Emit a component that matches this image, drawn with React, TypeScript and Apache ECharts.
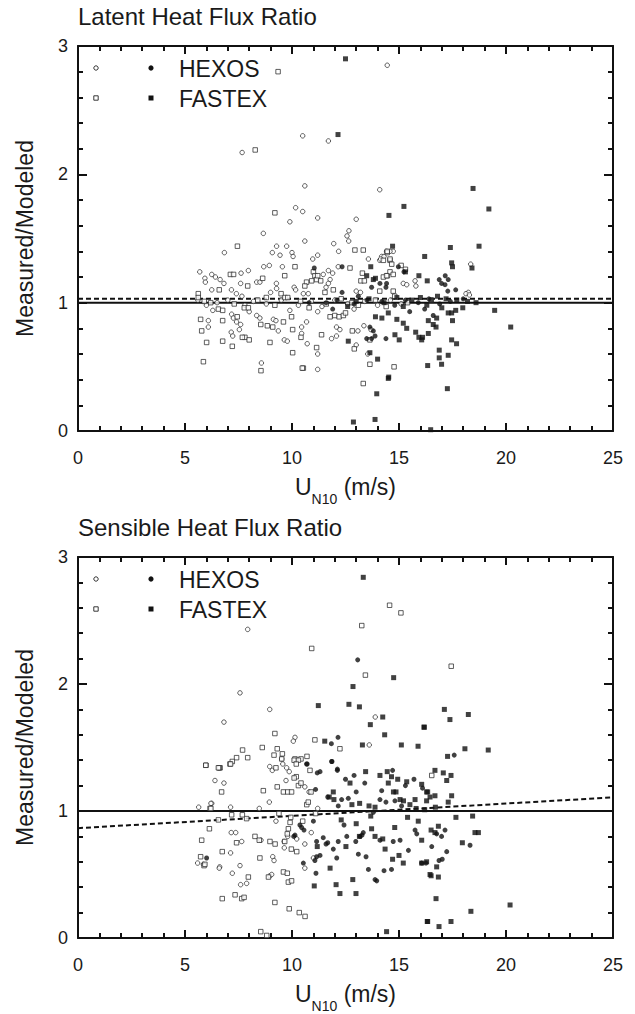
import React, { useEffect, useRef } from "react";
import * as echarts from "echarts";

const FONT = "'Liberation Sans', Arial, Helvetica, sans-serif";
const INK = "#1a1a1a";

const X_MIN = 0;
const X_MAX = 25;
const X_STEP = 5;
const Y_MIN = 0;
const Y_MAX = 3;
const Y_STEP = 1;

const TITLES = ["Latent Heat Flux Ratio", "Sensible Heat Flux Ratio"];
const LEGEND_NAMES = ["HEXOS", "FASTEX"];

const TOP_SOLID = [[0, 1.0], [25, 1.0]];
const TOP_DASHED = [[0, 1.03], [25, 1.03]];
const BOT_SOLID = [[0, 1.0], [25, 1.0]];
const BOT_DASHED = [[0, 0.865], [25, 1.107]];

const TOP_HEXOS_OPEN = [
  [10.5, 2.3], [7.67, 2.17], [10.6, 1.91], [10.17, 1.74], [10.5, 1.71], [11.2, 1.66], [9.9, 1.63], [8.66, 1.54],
  [14.45, 2.85], [11.7, 2.26], [14.1, 1.88], [13.0, 1.65], [12.66, 1.56], [12.57, 1.52], [12.65, 1.48],
  [6.84, 1.39], [9.28, 1.44], [9.75, 1.44], [9.44, 1.37], [9.08, 1.39], [10.0, 1.39], [10.05, 1.36], [10.6, 1.48],
  [11.95, 1.46], [12.18, 1.4], [10.97, 1.34], [11.2, 1.37], [13.57, 1.34], [14.19, 1.36], [14.1, 1.33],
  [5.69, 1.24], [5.93, 1.19], [5.95, 1.16], [6.25, 1.22], [6.42, 1.2], [6.64, 1.18], [6.82, 1.15], [7.62, 1.23],
  [7.96, 1.25], [7.6, 1.15], [7.17, 1.1], [6.25, 1.1], [7.4, 1.07], [7.66, 1.05], [8.68, 1.28], [8.94, 1.29],
  [9.55, 1.28], [9.0, 1.08], [9.27, 1.15], [9.28, 1.11], [8.35, 1.16], [8.5, 1.16], [10.1, 1.12], [10.17, 1.1],
  [10.53, 1.07], [10.76, 1.07], [11.46, 1.22], [11.7, 1.25], [11.9, 1.23], [11.78, 1.18], [11.7, 1.15],
  [11.59, 1.12], [12.16, 1.28], [13.0, 1.09], [13.2, 1.08],
  [6.09, 0.86], [6.09, 0.81], [7.16, 0.77], [7.23, 0.74], [7.18, 0.91], [7.26, 0.88], [7.41, 0.85], [7.6, 0.83],
  [7.54, 0.79], [8.57, 0.53], [8.35, 0.9], [8.5, 0.88], [9.13, 0.87], [9.25, 0.86], [9.36, 0.78], [9.64, 0.71],
  [9.78, 0.7], [10.45, 0.81], [10.45, 0.76], [10.68, 0.85], [10.71, 0.68], [11.2, 0.6], [11.2, 0.48],
  [11.85, 0.72], [12.08, 0.74], [12.08, 0.81], [12.24, 0.79], [13.08, 0.78], [13.54, 0.6], [13.69, 0.79],
  [13.36, 0.82], [13.0, 0.67],
  [14.73, 1.4], [14.58, 1.4], [14.42, 1.4], [14.3, 1.36], [14.14, 1.34], [18.35, 1.3], [15.75, 1.17],
  [15.79, 1.13], [15.2, 1.15], [15.36, 1.14], [18.24, 1.08], [18.13, 1.07], [18.29, 1.06],
  [5.6, 1.02], [6.0, 0.98], [6.5, 1.0], [7.0, 1.02], [7.8, 0.98], [8.2, 1.01], [8.8, 0.99], [9.5, 1.02],
  [10.3, 0.98], [10.9, 1.01], [11.4, 0.97], [12.0, 1.02], [12.6, 0.99], [13.4, 1.01], [14.0, 0.98],
  [14.6, 1.02], [15.1, 0.99], [6.3, 0.94], [8.0, 0.93], [9.9, 0.94], [11.2, 0.93], [12.9, 0.95],
];

const TOP_FASTEX_OPEN = [
  [9.35, 2.8], [8.28, 2.19], [9.2, 1.7], [7.45, 1.44], [12.94, 1.41], [13.33, 1.41], [14.45, 1.39], [14.58, 1.33],
  [14.27, 1.33], [7.12, 1.22], [7.27, 1.22], [7.93, 1.13], [6.6, 1.1], [8.63, 1.19], [10.14, 1.28], [9.66, 1.21],
  [9.49, 1.07], [9.67, 1.04], [9.8, 1.04], [11.0, 1.24], [11.07, 1.21], [10.68, 1.16], [10.6, 1.13],
  [10.92, 1.17], [11.15, 1.18], [11.34, 1.17], [11.2, 1.21], [12.71, 1.27], [11.54, 1.08], [11.93, 1.1],
  [13.29, 1.23], [13.22, 1.17], [13.38, 1.17], [14.1, 1.09], [14.46, 1.21], [14.58, 1.24], [14.73, 1.09],
  [14.8, 1.05], [5.62, 1.07], [5.62, 1.04],
  [5.73, 0.87], [5.78, 0.78], [6.01, 0.69], [5.86, 0.54], [6.56, 0.95], [6.76, 0.94], [6.76, 0.86], [6.76, 0.7],
  [7.21, 0.66], [7.44, 0.89], [7.77, 0.96], [7.96, 0.96], [7.8, 0.73], [8.0, 0.71], [7.68, 0.73], [8.54, 0.83],
  [8.55, 0.47], [8.97, 0.69], [8.85, 0.82], [9.1, 0.81], [9.6, 0.85], [9.98, 0.89], [10.03, 0.79],
  [10.03, 0.61], [10.53, 0.49], [10.42, 0.73], [11.15, 0.65], [11.38, 0.75], [10.48, 0.49], [11.78, 0.89],
  [12.0, 0.9], [12.2, 0.89], [12.4, 0.9], [12.5, 0.92], [12.82, 0.78], [12.91, 0.64], [13.33, 0.37],
  [13.64, 0.52], [13.64, 0.71], [14.77, 0.5],
  [14.45, 1.4], [14.58, 1.34], [14.66, 1.3], [14.27, 1.2], [14.42, 1.21], [14.73, 1.22], [15.3, 1.26],
  [15.1, 1.29], [16.5, 1.02],
  [6.2, 1.0], [7.3, 0.99], [8.4, 1.02], [9.2, 0.98], [10.4, 1.01], [11.6, 0.99], [12.3, 1.03], [13.1, 0.98],
  [13.9, 1.02], [14.4, 0.97], [15.4, 1.0], [5.9, 1.01], [8.8, 1.04], [10.8, 0.96], [12.8, 1.0],
];

const TOP_HEXOS_FILLED = [
  [11.04, 1.27], [12.34, 1.28], [12.34, 1.08], [13.72, 1.12], [14.11, 1.15], [14.42, 1.15], [14.39, 1.12],
  [13.49, 0.72], [13.72, 0.72], [13.88, 0.74], [14.39, 0.72], [13.64, 0.81], [13.8, 0.78], [14.97, 1.28],
  [15.23, 1.24], [16.88, 1.18], [16.99, 1.15], [17.15, 1.14], [17.16, 1.21], [17.3, 1.18], [17.65, 1.1],
  [17.28, 1.09], [11.6, 1.0], [12.1, 1.02], [12.9, 0.99], [13.5, 1.02], [14.2, 1.01], [14.8, 0.98],
  [15.3, 1.02], [15.9, 1.0], [16.4, 1.03], [16.9, 0.99], [17.4, 1.01], [18.0, 1.03], [15.5, 0.93],
  [16.2, 0.95], [16.6, 0.9], [13.1, 1.05], [10.8, 1.0], [11.9, 0.95],
];

const TOP_FASTEX_FILLED = [
  [12.5, 2.9], [12.15, 2.31], [18.46, 1.89], [15.23, 1.75], [19.2, 1.73], [14.53, 1.68], [14.7, 1.44],
  [15.3, 1.24], [13.68, 1.28], [13.49, 1.21], [13.8, 1.18], [13.9, 1.19], [17.4, 1.43], [18.74, 1.44],
  [16.2, 1.36], [17.46, 1.31], [17.5, 1.28], [18.41, 1.27], [15.93, 1.21], [16.32, 1.17], [18.6, 1.0],
  [19.47, 0.94], [20.22, 0.81], [17.98, 0.96], [17.3, 0.92], [17.46, 0.92], [17.65, 0.94], [17.5, 0.86],
  [16.76, 0.88], [16.73, 0.81], [16.6, 0.83], [16.37, 0.86], [15.36, 0.8], [14.81, 0.75], [15.01, 0.71],
  [15.78, 0.77], [15.93, 0.73], [16.1, 0.73], [16.06, 0.71], [16.37, 0.76], [17.46, 0.71], [17.69, 0.68],
  [16.88, 0.63], [16.88, 0.57], [17.3, 0.59], [16.99, 0.52], [16.34, 0.51], [14.5, 0.41], [17.26, 0.33],
  [16.48, 0.01], [12.63, 0.7], [13.64, 0.61], [14.0, 0.56], [13.96, 0.29], [14.52, 0.42], [12.87, 0.07],
  [13.88, 0.09], [13.9, 0.89], [14.2, 0.88], [14.5, 0.92], [14.9, 0.87], [15.2, 0.84],
  [13.0, 1.01], [13.6, 1.03], [14.3, 1.0], [14.9, 1.04], [15.6, 1.02], [16.0, 1.04], [16.5, 1.02],
  [16.8, 1.05], [17.2, 1.03], [17.7, 1.02], [18.2, 1.01], [15.2, 0.97], [16.3, 0.98], [17.0, 0.96],
  [12.6, 0.97],
];

const BOT_HEXOS_OPEN = [
  [7.93, 2.43], [7.57, 1.93], [8.96, 1.8], [6.82, 1.7], [13.89, 1.74], [13.61, 1.52], [10.14, 1.58],
  [10.06, 1.55], [8.96, 1.35], [9.08, 1.32], [9.57, 1.37], [6.4, 1.24], [6.82, 1.22], [6.25, 1.06],
  [7.13, 1.03], [8.47, 1.02], [8.94, 1.07], [9.52, 1.41], [9.75, 1.34], [9.87, 1.31], [9.72, 1.24],
  [9.25, 0.92], [7.16, 0.83], [7.37, 0.83], [7.65, 0.76], [7.13, 0.67], [7.57, 0.57], [7.21, 0.51],
  [6.62, 0.56], [7.6, 0.42], [7.88, 0.43], [10.6, 0.55], [5.64, 1.03], [6.21, 1.06], [5.59, 0.59],
  [5.86, 0.58], [6.6, 0.55], [8.55, 0.77], [9.1, 0.64], [9.16, 0.61], [9.63, 0.76], [9.8, 0.8], [9.64, 0.71],
  [10.6, 0.74], [10.22, 0.78], [8.97, 0.49], [9.05, 0.5], [10.6, 1.19], [10.8, 1.15], [11.2, 1.02],
  [10.9, 0.83], [11.0, 0.63],
];

const BOT_FASTEX_OPEN = [
  [14.56, 2.62], [15.09, 2.56], [13.26, 2.46], [10.92, 2.28], [13.43, 2.07], [9.2, 1.61], [11.07, 1.56],
  [12.24, 1.49], [7.69, 1.48], [7.41, 1.42], [7.21, 1.39], [7.1, 1.37], [7.93, 1.42], [6.64, 1.34],
  [5.98, 1.36], [8.61, 1.5], [17.44, 2.14], [16.53, 1.28], [9.16, 1.44], [9.31, 1.49], [9.55, 1.45],
  [9.52, 1.41], [10.14, 1.41], [10.42, 1.41], [10.7, 1.43], [9.25, 1.34], [10.2, 1.27],
  [6.6, 1.34], [7.13, 1.37], [6.71, 1.15], [6.17, 1.02], [7.18, 0.97], [7.68, 0.97], [7.88, 0.94],
  [6.56, 0.93], [8.66, 1.16], [9.31, 1.19], [9.6, 1.15], [9.8, 1.15], [9.98, 1.15], [10.1, 1.4], [10.3, 1.4],
  [10.2, 1.37], [10.1, 1.26], [10.3, 1.2], [10.42, 1.22], [10.89, 1.15], [10.84, 1.32], [10.69, 1.05],
  [10.76, 1.07], [9.39, 0.98], [9.83, 0.86], [9.91, 0.91], [9.94, 0.95], [9.78, 0.82], [7.41, 0.75],
  [6.74, 0.68], [7.96, 0.48], [6.74, 0.31], [7.34, 0.34], [7.65, 0.31], [7.76, 0.32], [8.27, 0.8],
  [8.47, 0.77], [8.5, 0.63], [8.97, 0.76], [9.21, 0.74], [9.66, 0.76], [9.97, 0.7], [10.22, 0.68],
  [9.6, 0.52], [9.78, 0.51], [9.83, 0.44], [9.98, 0.45], [8.9, 0.48], [9.2, 0.28], [9.87, 0.23],
  [10.34, 0.2], [10.61, 0.17], [8.54, 0.05], [8.82, 0.02], [5.97, 1.36], [6.56, 1.34], [6.21, 1.02],
  [6.14, 0.86], [5.78, 0.77], [5.73, 0.64], [5.89, 0.57], [5.93, 0.58], [10.5, 0.92], [11.1, 0.98],
];

const BOT_HEXOS_FILLED = [
  [13.07, 2.19], [11.84, 1.53], [12.15, 1.58], [10.68, 1.37], [11.87, 1.39], [12.12, 1.33], [10.71, 1.37],
  [11.18, 1.3], [11.31, 1.31], [11.1, 1.17], [11.85, 1.39], [12.12, 1.32], [12.32, 1.09], [12.63, 1.1],
  [12.16, 1.04], [11.67, 1.11], [13.8, 0.99], [10.37, 0.89], [10.56, 0.85], [10.45, 0.87], [10.14, 0.81],
  [10.08, 0.8], [11.0, 0.92], [10.53, 0.59], [11.12, 0.51], [11.15, 0.64], [11.15, 0.76], [11.07, 0.61],
  [11.31, 0.65], [11.46, 0.79], [11.59, 0.74], [12.09, 0.63], [13.88, 0.46], [13.96, 0.45], [14.3, 0.53],
  [14.65, 0.54], [17.58, 1.44], [16.76, 0.82], [16.99, 0.8], [17.15, 0.85], [16.53, 0.72], [17.23, 0.68],
  [18.32, 0.73], [16.06, 0.59], [16.26, 0.59], [16.87, 0.61], [17.02, 0.62], [6.01, 0.63],
  [11.67, 0.75], [11.93, 0.7], [12.16, 0.76], [12.43, 0.89], [12.56, 0.8], [12.98, 0.76], [13.1, 0.66],
  [13.18, 0.8], [13.27, 0.81], [13.33, 0.83], [13.46, 0.64], [13.57, 0.54], [14.7, 1.32], [14.19, 1.16],
  [14.11, 1.09], [14.39, 1.07], [14.81, 1.08], [15.12, 1.04], [14.11, 0.77], [14.73, 0.76], [15.05, 0.77],
  [15.44, 0.69], [15.75, 0.85], [15.83, 0.82], [12.9, 1.28], [13.4, 1.22], [13.0, 1.15], [12.5, 1.25],
  [15.7, 1.25], [15.3, 1.2], [16.1, 1.18],
];

const BOT_FASTEX_FILLED = [
  [13.33, 2.84], [14.75, 2.05], [12.85, 1.98], [11.23, 1.83], [12.66, 1.84], [13.15, 1.82], [14.24, 1.74],
  [13.66, 1.68], [14.33, 1.6], [16.17, 1.66], [15.11, 1.52], [15.89, 1.51], [13.29, 1.52], [11.53, 1.55],
  [13.44, 1.31], [12.71, 1.22], [11.93, 1.15], [11.74, 1.11], [11.96, 1.09], [12.8, 1.05], [13.16, 1.06],
  [13.6, 1.04], [14.11, 1.28], [14.45, 1.31], [14.65, 1.27], [14.94, 1.25], [15.36, 1.23], [14.5, 1.22],
  [14.74, 1.15], [14.86, 1.15], [15.05, 1.09], [15.21, 1.08], [15.51, 1.05], [15.75, 1.09], [16.06, 1.21],
  [16.34, 1.15], [13.88, 1.03], [13.68, 0.96], [11.04, 0.41], [11.18, 0.72], [11.78, 0.55], [12.06, 0.42],
  [12.24, 0.35], [12.84, 0.46], [12.99, 0.35], [15.2, 0.59], [16.06, 0.59], [16.29, 0.6], [16.45, 0.5],
  [16.34, 0.13], [14.42, 0.05], [17.12, 1.8], [17.38, 1.72], [18.24, 1.76], [16.18, 1.66], [18.08, 1.49],
  [19.17, 1.48], [17.27, 1.43], [16.68, 1.32], [17.07, 1.3], [17.43, 1.28], [17.23, 1.24], [16.29, 1.15],
  [16.45, 1.11], [16.68, 1.12], [17.46, 1.12], [17.3, 1.07], [16.29, 1.08], [17.66, 0.95], [18.44, 0.96],
  [16.5, 0.85], [16.68, 0.83], [16.84, 0.88], [18.55, 0.83], [18.71, 0.83], [17.96, 0.75], [16.06, 0.77],
  [16.5, 0.49], [16.84, 0.48], [16.76, 0.56], [16.73, 0.31], [20.19, 0.26], [18.36, 0.21], [16.32, 0.13],
  [16.87, 0.09], [17.43, 0.13], [12.52, 0.72], [13.15, 0.8], [13.72, 0.86], [13.88, 0.8], [14.24, 0.78],
  [14.35, 0.7], [12.3, 0.93], [13.0, 0.9], [14.8, 0.87], [15.4, 0.95], [15.9, 0.92], [15.0, 0.65],
  [14.7, 0.62], [15.8, 1.02], [16.2, 1.01], [16.7, 1.03],
];

const GRID_LEFT = 78;
const GRID_WIDTH = 535;
const GRID_TOPS = [46, 557];
const GRID_HEIGHT = 385;
const PANEL_SHIFT = 511;

function tickOptions(majorLen: number) {
  return {
    axisTick: { show: true, inside: true, length: majorLen, lineStyle: { color: "#111", width: 2 } },
    minorTick: { show: true, splitNumber: 5, length: 5, lineStyle: { color: "#111", width: 2 } },
  };
}

function xAxisFor(gridIndex: number, position: "bottom" | "top") {
  const main = position === "bottom";
  return {
    type: "value",
    gridIndex,
    position,
    min: X_MIN,
    max: X_MAX,
    interval: X_STEP,
    axisLine: { show: true, onZero: false, lineStyle: { color: "#111", width: 2 } },
    ...tickOptions(8),
    splitLine: { show: false },
    minorSplitLine: { show: false },
    axisLabel: { show: main, margin: 18, fontSize: 18, color: INK, fontFamily: FONT },
    name: main ? "{u|U}{s|N10}{u| (m/s)}" : "",
    nameLocation: "middle",
    nameGap: 44,
    nameTextStyle: {
      fontFamily: FONT,
      color: INK,
      fontSize: 23,
      rich: {
        u: { fontSize: 23, lineHeight: 23, verticalAlign: "top", fontFamily: FONT, color: INK },
        s: { fontSize: 14, lineHeight: 14, verticalAlign: "top", padding: [17, 0, 0, 0], fontFamily: FONT, color: INK },
      },
    },
  };
}

function yAxisFor(gridIndex: number, position: "left" | "right") {
  const main = position === "left";
  return {
    type: "value",
    gridIndex,
    position,
    min: Y_MIN,
    max: Y_MAX,
    interval: Y_STEP,
    axisLine: { show: true, onZero: false, lineStyle: { color: "#111", width: 2 } },
    ...tickOptions(9),
    splitLine: { show: false },
    minorSplitLine: { show: false },
    axisLabel: { show: main, margin: 10, fontSize: 18, color: INK, fontFamily: FONT },
    name: main ? "Measured/Modeled" : "",
    nameLocation: "middle",
    nameGap: 42,
    nameTextStyle: { fontFamily: FONT, color: INK, fontSize: 23 },
  };
}

function scatter(name: string, data: number[][], panel: number, symbol: string, filled: boolean) {
  return {
    type: "scatter",
    name,
    xAxisIndex: panel * 2,
    yAxisIndex: panel * 2,
    data,
    symbol,
    symbolSize: filled ? 5 : 4.5,
    itemStyle: filled ? { color: "#111" } : { color: "#fff", borderColor: "#222", borderWidth: 0.9 },
    z: filled ? 4 : 3,
    silent: true,
  };
}

function refLine(data: number[][], panel: number, dashed: boolean) {
  return {
    type: "line",
    xAxisIndex: panel * 2,
    yAxisIndex: panel * 2,
    data,
    showSymbol: false,
    silent: true,
    lineStyle: { color: "#111", width: 2, type: dashed ? [5, 3] : "solid" },
    z: 2,
  };
}

function legendGraphics(panel: number) {
  const dy = panel * PANEL_SHIFT;
  const rows = [68 + dy, 98 + dy];
  const items: any[] = [];
  rows.forEach((cy, i) => {
    if (i === 0) {
      items.push({ type: "circle", shape: { cx: 96, cy, r: 2.2 }, style: { fill: "#fff", stroke: "#222", lineWidth: 0.9 } });
      items.push({ type: "circle", shape: { cx: 151, cy, r: 2.6 }, style: { fill: "#111" } });
    } else {
      items.push({ type: "rect", shape: { x: 93.8, y: cy - 2.2, width: 4.4, height: 4.4 }, style: { fill: "#fff", stroke: "#222", lineWidth: 0.9 } });
      items.push({ type: "rect", shape: { x: 148.5, y: cy - 2.5, width: 5, height: 5 }, style: { fill: "#111" } });
    }
    items.push({
      type: "text",
      x: 179,
      y: cy + 1,
      style: { text: LEGEND_NAMES[i], fontSize: 23, fontFamily: FONT, fill: INK, verticalAlign: "middle" },
    });
  });
  return items;
}

export default function App() {
  const ref = useRef<HTMLDivElement>(null);
  useEffect(() => {
    if (!ref.current) return;
    const chart = echarts.init(ref.current, null, { renderer: "svg" });
    const option = {
      animation: false,
      backgroundColor: "#ffffff",
      title: TITLES.map((t, i) => ({
        text: t,
        left: GRID_LEFT,
        top: 4 + i * PANEL_SHIFT,
        padding: 0,
        textStyle: { fontSize: 24, fontWeight: "normal", color: INK, fontFamily: FONT },
      })),
      grid: GRID_TOPS.map((top) => ({ left: GRID_LEFT, top, width: GRID_WIDTH, height: GRID_HEIGHT, show: false })),
      xAxis: [xAxisFor(0, "bottom"), xAxisFor(0, "top"), xAxisFor(1, "bottom"), xAxisFor(1, "top")],
      yAxis: [yAxisFor(0, "left"), yAxisFor(0, "right"), yAxisFor(1, "left"), yAxisFor(1, "right")],
      graphic: [...legendGraphics(0), ...legendGraphics(1)],
      series: [
        refLine(TOP_SOLID, 0, false),
        refLine(TOP_DASHED, 0, true),
        scatter("HEXOS (open)", TOP_HEXOS_OPEN, 0, "circle", false),
        scatter("FASTEX (open)", TOP_FASTEX_OPEN, 0, "rect", false),
        scatter("HEXOS", TOP_HEXOS_FILLED, 0, "circle", true),
        scatter("FASTEX", TOP_FASTEX_FILLED, 0, "rect", true),
        refLine(BOT_SOLID, 1, false),
        refLine(BOT_DASHED, 1, true),
        scatter("HEXOS (open)", BOT_HEXOS_OPEN, 1, "circle", false),
        scatter("FASTEX (open)", BOT_FASTEX_OPEN, 1, "rect", false),
        scatter("HEXOS", BOT_HEXOS_FILLED, 1, "circle", true),
        scatter("FASTEX", BOT_FASTEX_FILLED, 1, "rect", true),
      ],
    };
    chart.setOption(option as any);
    return () => chart.dispose();
  }, []);
  return (
    <div
      ref={ref}
      style={{ position: "absolute", left: 0, top: 0, width: 635, height: 1014, background: "#fff" }}
    />
  );
}
